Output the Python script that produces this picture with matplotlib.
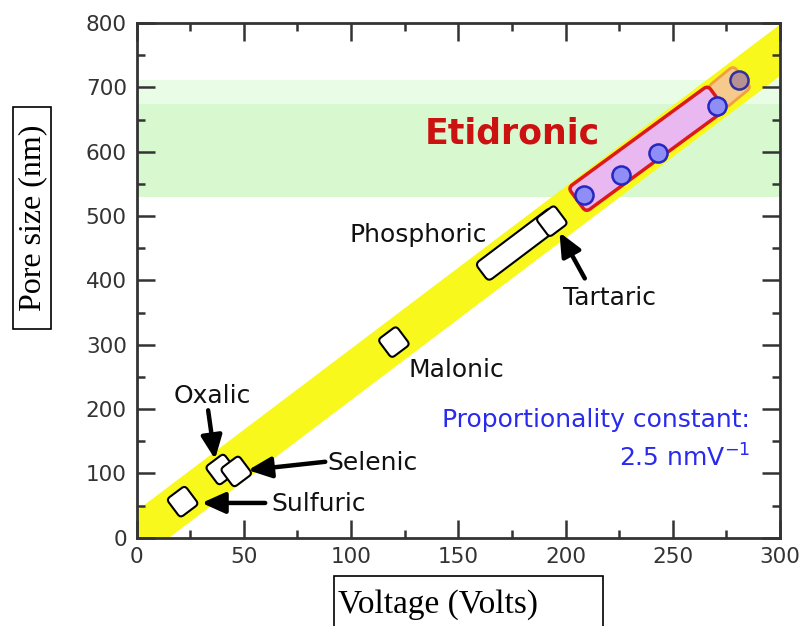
import numpy as np
import matplotlib
matplotlib.use("Agg")
import matplotlib.pyplot as plt
from matplotlib.patches import FancyBboxPatch, Rectangle
from matplotlib.transforms import Affine2D

# single-voltage acids (box centres)
acid_names = ["Sulfuric", "Oxalic", "Selenic", "Malonic", "Tartaric"]
acid_volts = [21.5, 39.5, 46.5, 120, 193.6]
acid_pore = [56, 106, 103, 304, 492]

# phosphoric spans a range
phos_volts = [161, 196]
phos_pore = [412, 500]

# etidronic points
etid_volts = [208.4, 225.7, 243, 270.6, 281]
etid_pore = [532, 563, 598, 671, 712]
etid_box = ([205.4, 270.5], [525, 684])
etid_box2 = ([270.5, 282.4], [684, 716.7])

# yellow band edges at x = 0 and 300
band_x = [0, 300]
band_lo = [-37, 719]
band_hi = [43, 799]

green_spans = [(530, 674, "#d8f8d0"), (674, 712, "#e9fce5")]

xticks = [0, 50, 100, 150, 200, 250, 300]
yticks = [0, 100, 200, 300, 400, 500, 600, 700, 800]

fig = plt.figure(figsize=(8, 6.26), dpi=100)
ax = fig.add_axes([136.5 / 800, 1 - 537.7 / 626, (780 - 136.5) / 800, (537.7 - 23) / 626])
ax.set_xlim(0, 300)
ax.set_ylim(0, 800)

for lo, hi, c in green_spans:
    ax.axhspan(lo, hi, color=c, lw=0, zorder=0)
ax.fill_between(band_x, band_lo, band_hi, color="#f8f81c", lw=0, zorder=1)


def diag_box(xs, ys, width, fc, ec, lw=1.5, z=3, rs=5):
    # rounded box along the line between two data points, width in pixels
    p0 = ax.transData.transform((xs[0], ys[0]))
    p1 = ax.transData.transform((xs[1], ys[1]))
    d = p1 - p0
    length = max(np.hypot(*d), width)
    ang = np.degrees(np.arctan2(d[1], d[0]))
    c = (p0 + p1) / 2
    box = FancyBboxPatch((c[0] - length / 2, c[1] - width / 2), length, width,
                         boxstyle=f"round,pad=0,rounding_size={rs}",
                         fc=fc, ec=ec, lw=lw, zorder=z,
                         transform=Affine2D().rotate_deg_around(c[0], c[1], ang))
    ax.add_patch(box)


# etidronic boxes
diag_box(*etid_box2, 28, "#f6c98c", "#f0a040", lw=2, z=3)
diag_box(*etid_box, 30, "#eab8f0", "#dd1a1a", lw=2.5, z=3)

# acid boxes
diag_box(phos_volts, phos_pore, 22, "white", "black", lw=1.5)
for v, p in zip(acid_volts, acid_pore):
    diag_box([v - 0.1, v + 0.1], [p - 0.25, p + 0.25], 23, "white", "black", lw=1.5, rs=4)

ax.scatter(etid_volts[:-1], etid_pore[:-1], s=170, c="#8e8ef6", edgecolors="#2626c0",
           linewidths=1.8, zorder=6)
ax.scatter(etid_volts[-1:], etid_pore[-1:], s=170, c="#b89292", edgecolors="#3030a0",
           linewidths=1.8, zorder=6)

# labels and arrows
lab = dict(fontsize=18, color="#111111", family="DejaVu Sans")
arw = dict(arrowstyle="-|>,head_length=1.0,head_width=0.45", lw=3.2, color="black",
           mutation_scale=14, shrinkA=0, shrinkB=0)
ax.text(35.2, 221, "Oxalic", ha="center", va="center", **lab)
ax.annotate("", xy=(36.6, 122), xytext=(33.4, 198), arrowprops=arw, zorder=7)
ax.text(89, 116, "Selenic", ha="left", va="center", **lab)
ax.annotate("", xy=(52, 105), xytext=(88, 118), arrowprops=arw, zorder=7)
ax.text(63, 52, "Sulfuric", ha="left", va="center", **lab)
ax.annotate("", xy=(30.4, 54), xytext=(60, 54), arrowprops=arw, zorder=7)
ax.text(131.2, 470, "Phosphoric", ha="center", va="center", **lab)
ax.text(149, 260, "Malonic", ha="center", va="center", **lab)
ax.text(220.7, 372, "Tartaric", ha="center", va="center", **lab)
ax.annotate("", xy=(197.2, 474.5), xytext=(209, 403), arrowprops=arw, zorder=7)

ax.text(175, 628, "Etidronic", ha="center", va="center", fontsize=25,
        fontweight="bold", color="#cc1111")
ax.text(286, 182.6, "Proportionality constant:", ha="right", va="center",
        fontsize=18, color="#2a2aee")
ax.text(286, 123.6, "2.5 nmV$^{-1}$", ha="right", va="center",
        fontsize=18, color="#2a2aee")

# axes styling
ax.set_xticks(xticks)
ax.set_yticks(yticks)
ax.set_xticks(np.arange(25, 300, 50), minor=True)
ax.set_yticks(np.arange(50, 800, 100), minor=True)
ax.tick_params(which="both", direction="in", top=True, right=True, colors="#333333",
               labelsize=15.5, width=1.8)
ax.tick_params(which="major", length=13, pad=7)
ax.tick_params(which="minor", length=6)
for s in ax.spines.values():
    s.set_linewidth(2)
    s.set_color("#333333")

# boxed axis titles
fig.patches.append(Rectangle((13 / 800, 1 - 329 / 626), 38 / 800, 222 / 626,
                             transform=fig.transFigure, fill=False, ec="black", lw=1.2))
fig.text(33 / 800, 1 - 218 / 626, "Pore size (nm)", rotation=90, ha="center", va="center",
         fontsize=23, family="Liberation Serif")
fig.patches.append(Rectangle((334 / 800, -10 / 626), 269 / 800, (626 - 576 + 10) / 626,
                             transform=fig.transFigure, fill=False, ec="black", lw=1.2))
fig.text(338 / 800, 1 - 605 / 626, "Voltage (Volts)", ha="left", va="center",
         fontsize=24, family="Liberation Serif")

fig.savefig("out.png", dpi=100)
